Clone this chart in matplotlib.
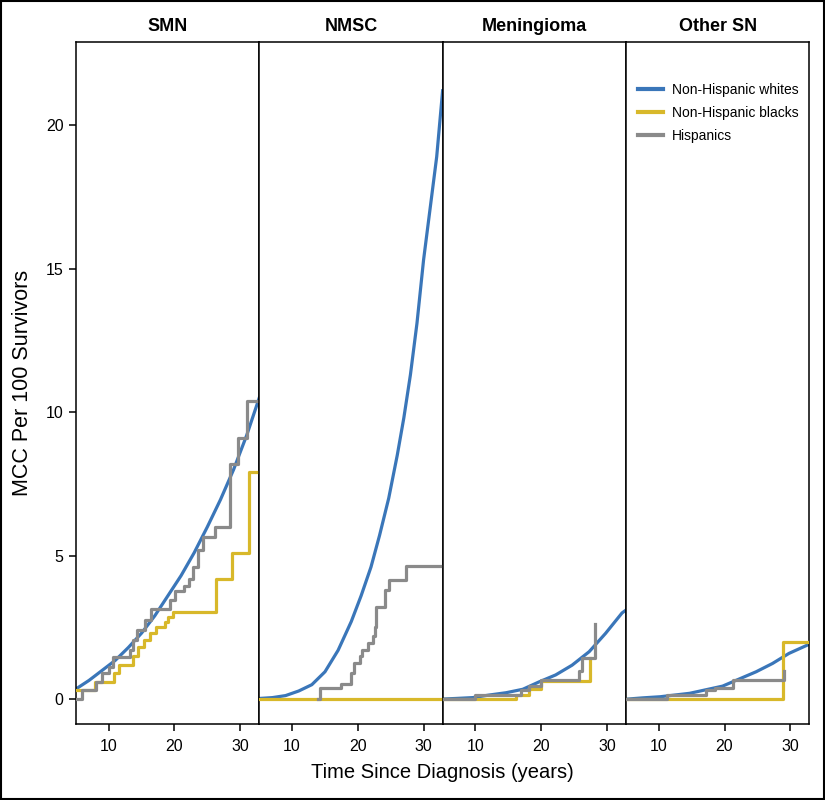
import numpy as np
import matplotlib
matplotlib.use('Agg')
import matplotlib.pyplot as plt
from matplotlib.patches import Rectangle

panels = ['SMN', 'NMSC', 'Meningioma', 'Other SN']
groups = ['Non-Hispanic whites', 'Non-Hispanic blacks', 'Hispanics']
cols = ('#3a76b9', '#d8b82a', '#8a8a8a')

# --- SMN ---
smn_w_t = [5, 7, 9, 11, 13, 15, 17, 19, 21, 23, 25, 27, 29, 31, 32.9]
smn_w_v = [0.35, 0.65, 1.0, 1.35, 1.8, 2.3, 2.9, 3.6, 4.3, 5.1, 6.0, 6.95, 8.0, 9.2, 10.5]
smn_b_t = [5.0, 7.9, 10.8, 11.5, 13.7, 14.5, 15.3, 16.2, 17.2, 18.5, 19.0, 19.8, 26.3, 28.8, 31.3, 32.9]
smn_b_v = [0.3, 0.6, 0.9, 1.2, 1.5, 1.8, 2.05, 2.3, 2.5, 2.7, 2.85, 3.05, 4.2, 5.1, 7.9, 7.9]
smn_h_t = [5.0, 5.9, 8.1, 9.0, 10.0, 10.7, 13.2, 13.7, 14.3, 15.5, 16.5, 19.3, 20.1, 21.4, 22.2,
           22.8, 23.6, 24.4, 26.2, 28.5, 29.6, 31.0, 32.9]
smn_h_v = [0.0, 0.3, 0.6, 0.9, 1.1, 1.45, 1.7, 2.05, 2.4, 2.75, 3.15, 3.45, 3.75, 3.95, 4.2,
           4.6, 5.2, 5.65, 6.0, 8.2, 9.1, 10.4, 10.4]

# --- NMSC ---
nmsc_w_t = [5, 7, 9, 11, 13, 15, 17, 19, 20.5, 22, 23.3, 24.7, 26, 27, 28, 29, 30, 31, 32, 32.9]
nmsc_w_v = [0.02, 0.05, 0.12, 0.28, 0.5, 0.95, 1.7, 2.7, 3.6, 4.6, 5.7, 7.0, 8.5, 9.8, 11.3,
            13.1, 15.3, 17.1, 18.9, 21.2]
nmsc_b_t = [5.0, 32.9]
nmsc_b_v = [0.0, 0.0]
nmsc_h_t = [14.0, 14.2, 17.5, 19.0, 19.4, 20.3, 20.6, 21.6, 22.3, 22.6, 22.8, 24.1, 24.8, 27.4, 32.9]
nmsc_h_v = [0.0, 0.37, 0.52, 0.9, 1.25, 1.5, 1.7, 1.95, 2.2, 2.5, 3.2, 3.8, 4.15, 4.65, 4.65]

# --- Meningioma ---
men_w_t = [5, 7, 9.6, 12.1, 14.65, 17.2, 19.7, 22.2, 24.7, 27.3, 29.8, 32.3, 32.9]
men_w_v = [0.0, 0.02, 0.05, 0.14, 0.22, 0.34, 0.6, 0.84, 1.18, 1.65, 2.29, 3.0, 3.1]
men_b_t = [5.0, 16.2, 18.2, 20.0, 27.5]
men_b_v = [0.0, 0.14, 0.36, 0.62, 1.42]
men_h_t = [5.0, 9.9, 16.9, 18.1, 19.9, 25.8, 26.2, 28.2]
men_h_v = [0.0, 0.14, 0.3, 0.45, 0.65, 0.97, 1.44, 2.63]

# --- Other SN ---
oth_w_t = [5.3, 7.5, 10.2, 14.7, 19.7, 24.8, 27.3, 29.8, 32.6, 32.9]
oth_w_v = [0.0, 0.04, 0.08, 0.2, 0.45, 0.95, 1.24, 1.59, 1.88, 1.92]
oth_b_t = [5.0, 28.9, 32.9]
oth_b_v = [0.0, 2.0, 2.0]
oth_h_t = [5.0, 11.2, 17.2, 18.5, 21.3, 29.1]
oth_h_v = [0.0, 0.14, 0.3, 0.4, 0.65, 0.99]

series = [
  [(smn_w_t, smn_w_v), (smn_b_t, smn_b_v), (smn_h_t, smn_h_v)],
  [(nmsc_w_t, nmsc_w_v), (nmsc_b_t, nmsc_b_v), (nmsc_h_t, nmsc_h_v)],
  [(men_w_t, men_w_v), (men_b_t, men_b_v), (men_h_t, men_h_v)],
  [(oth_w_t, oth_w_v), (oth_b_t, oth_b_v), (oth_h_t, oth_h_v)],
]

plt.rcParams['font.family'] = ['Liberation Sans', 'DejaVu Sans']
plt.rcParams['axes.linewidth'] = 1.1

fig, axes = plt.subplots(1, 4, sharey=True)
fig.set_size_inches(8.25, 8.0)
fig.subplots_adjust(left=0.092, right=0.981, bottom=0.095, top=0.9475, wspace=0)


def plot_panel(ax, data, title):
  t, v = data[0]
  ax.plot(t, v, color=cols[0], lw=2.3, zorder=2, label=groups[0])
  t, v = data[1]
  ax.step(t, v, where='post', color=cols[1], lw=2.3, zorder=3, label=groups[1])
  t, v = data[2]
  ax.step(t, v, where='post', color=cols[2], lw=2.3, zorder=4, label=groups[2])
  ax.set_xlim(5, 32.9)
  ax.set_ylim(-0.87, 22.9)
  ax.set_xticks([10, 20, 30])
  ax.tick_params(axis='x', direction='out', length=5, width=1.1, labelsize=11.5, pad=6)
  ax.set_title(title, fontsize=13, fontweight='bold', pad=8)


for i, ax in enumerate(axes):
  plot_panel(ax, series[i], panels[i])
  if i > 0:
    ax.tick_params(axis='y', left=False, labelleft=False)

axes[0].set_yticks([0, 5, 10, 15, 20])
axes[0].tick_params(axis='y', direction='out', length=5, width=1.1, labelsize=11.5, pad=4)
axes[0].set_ylabel('MCC Per 100 Survivors', fontsize=15.5, labelpad=9)

fig.text(0.536, 0.035, 'Time Since Diagnosis (years)', ha='center', va='center', fontsize=14.5)

leg = axes[3].legend(loc='upper left', bbox_to_anchor=(0.0, 0.958), frameon=False,
                     prop={'size': 10}, handlelength=1.8, handletextpad=0.6,
                     labelspacing=0.65)
for line in leg.get_lines():
  line.set_linewidth(3)

# outer frame round the whole figure
fig.patches.append(Rectangle((0.001, 0.001), 0.998, 0.998, transform=fig.transFigure,
                             fill=False, edgecolor='black', lw=1.5))

fig.savefig('out.png', dpi=100)
